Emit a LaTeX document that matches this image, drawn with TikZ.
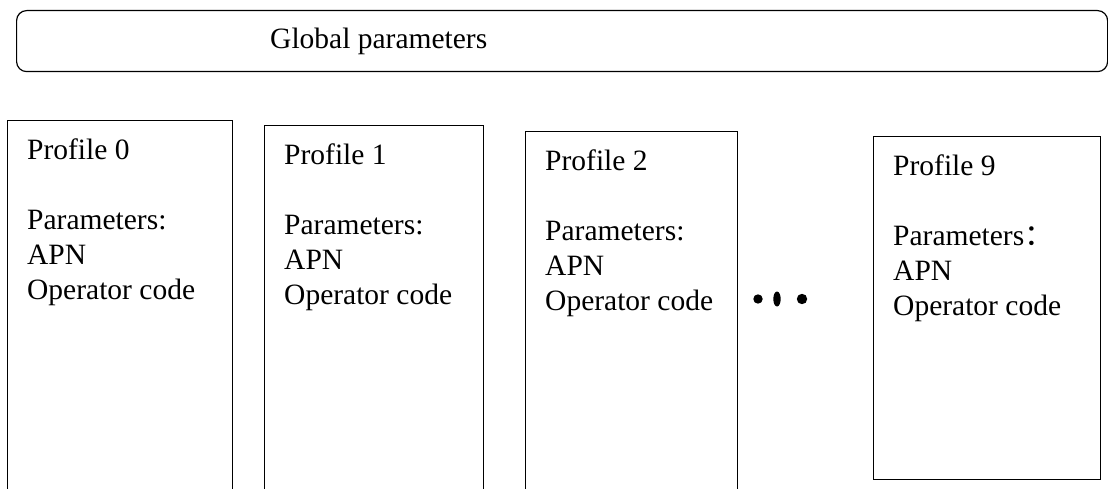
\documentclass[tikz,border=0pt]{standalone}
\usepackage{fontspec}
\setmainfont{Liberation Serif}
\newfontfamily\cjk{Noto Sans CJK SC}
\usetikzlibrary{positioning}

\tikzset{
	profbox/.style={draw, line width=1.2pt, anchor=north west, inner sep=0pt},
	proftext/.style={align=left, anchor=north west, inner sep=0pt, font=\fontsize{29.5}{35}\selectfont},
}

\begin{document}
\begin{tikzpicture}[x=1pt, y=-1pt]
	\useasboundingbox (0,0) rectangle (1108,489);
	\clip (0,0) rectangle (1108,489);
	% global part on top
	\node[profbox, rounded corners=10pt, minimum width=1091pt, minimum height=61pt] (global) at (16,10) {};
	\node[proftext, right=254pt of global.west] (globaltxt) {Global parameters};
	% the profiles, cut off at the bottom
	\foreach \n/\x/\y/\w in {0/7/120/225, 1/264/125/219, 2/525/131/212} {
		\node[profbox, minimum width=\w pt, minimum height=420pt] (p\n) at (\x,\y) {};
		\node[proftext, below right=18.5pt and 20pt of p\n.north west] (t\n) {Profile \n\\[35pt]Parameters:\\APN\\Operator code};
	}
	\node[profbox, minimum width=227pt, minimum height=343pt] (p9) at (873,136) {};
	\node[proftext, below right=18.5pt and 20pt of p9.north west] (t9) {Profile 9\\[35pt]Parameters{\cjk ：}\\APN\\Operator code};
	% dots between profile 2 and profile 9
	\fill (758,299) circle (4.7pt);
	\fill (777,299) ellipse (3.7pt and 7.5pt);
	\fill (802,299) circle (5.2pt);
\end{tikzpicture}
\end{document}
